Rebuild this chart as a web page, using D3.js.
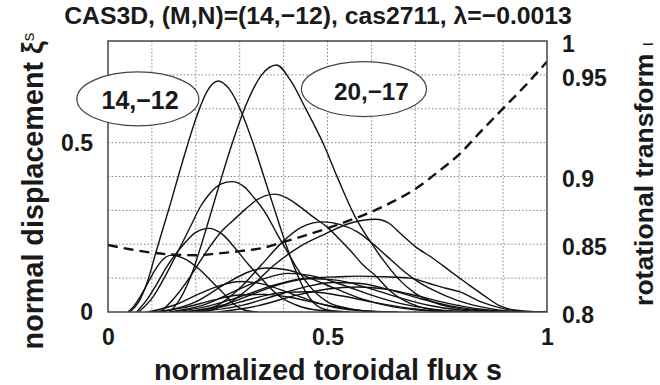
<!DOCTYPE html>
<html>
<head>
<meta charset="utf-8">
<script src="https://cdn.jsdelivr.net/npm/d3@7"></script>
<style>
  body { margin: 0; background: #fff; }
  svg text { font-family: "Liberation Sans", Arial, sans-serif; font-weight: bold; fill: #1a1a1a; }
</style>
</head>
<body>
<svg id="chart" width="660" height="385"></svg>
<script>
// tick labels
const sTicks = [0, 0.5, 1];
const xiTicks = [0, 0.5];
const iotaTicks = [0.8, 0.85, 0.9, 0.95, 1];
const modeLabels = ["14,\u221212", "20,\u221217"];

// rotational transform profile (dashed)
const iotaS = [0, 0.05, 0.1, 0.15, 0.2, 0.25, 0.3, 0.35, 0.4, 0.45, 0.5, 0.55, 0.6, 0.65, 0.7, 0.75, 0.8, 0.85, 0.9, 0.95, 1];
const iotaV = [0.8495, 0.8463, 0.8438, 0.8423, 0.8419, 0.8432, 0.8449, 0.8471, 0.8517, 0.8566, 0.8618,
               0.8676, 0.8739, 0.8816, 0.8908, 0.902, 0.9109, 0.9223, 0.9335, 0.9446, 0.9696];

// normal displacement of the Fourier components, [s, xi]
const mode14_12 = [[0.05,0],[0.07,0.03],[0.09,0.09],[0.11,0.18],[0.14,0.31],[0.17,0.445],[0.2,0.57],[0.225,0.65],[0.251,0.682],[0.275,0.66],[0.305,0.587],[0.33,0.5],[0.355,0.4],[0.38,0.3],[0.4,0.22],[0.425,0.13],[0.45,0.06],[0.47,0.025],[0.5,0.006],[0.55,0]];
const mode20_17 = [[0.14,0],[0.16,0.03],[0.19,0.11],[0.22,0.23],[0.25,0.36],[0.278,0.478],[0.316,0.616],[0.35,0.7],[0.384,0.729],[0.415,0.685],[0.452,0.596],[0.49,0.498],[0.525,0.39],[0.563,0.281],[0.6,0.203],[0.627,0.153],[0.66,0.1],[0.7,0.055],[0.75,0.025],[0.8,0.01],[0.88,0.002],[0.95,0]];
const modeC = [[0.07,0],[0.1,0.04],[0.134,0.115],[0.16,0.18],[0.187,0.25],[0.21,0.31],[0.232,0.35],[0.258,0.378],[0.282,0.385],[0.31,0.37],[0.331,0.34],[0.36,0.29],[0.384,0.233],[0.41,0.175],[0.43,0.13],[0.46,0.075],[0.5,0.03],[0.55,0.01],[0.62,0]];
const modeD = [[0.12,0],[0.15,0.04],[0.187,0.104],[0.21,0.15],[0.232,0.193],[0.26,0.24],[0.285,0.27],[0.31,0.3],[0.338,0.33],[0.378,0.348],[0.41,0.335],[0.437,0.311],[0.468,0.28],[0.498,0.252],[0.525,0.218],[0.551,0.183],[0.58,0.14],[0.612,0.104],[0.64,0.065],[0.673,0.035],[0.71,0.015],[0.76,0.004],[0.82,0]];
const modeE = [[0.065,0],[0.088,0.035],[0.11,0.08],[0.134,0.134],[0.171,0.198],[0.2,0.235],[0.23,0.247],[0.26,0.23],[0.293,0.183],[0.32,0.14],[0.346,0.104],[0.37,0.07],[0.392,0.045],[0.43,0.02],[0.48,0.005],[0.55,0]];
const modeF = [[0.045,0],[0.058,0.016],[0.08,0.06],[0.103,0.115],[0.125,0.155],[0.145,0.168],[0.17,0.16],[0.21,0.124],[0.24,0.085],[0.263,0.055],[0.285,0.025],[0.31,0.006],[0.34,0]];
const modeG = [[0.22,0],[0.28,0.03],[0.33,0.08],[0.38,0.14],[0.437,0.193],[0.494,0.23],[0.551,0.262],[0.61,0.274],[0.64,0.262],[0.665,0.233],[0.7,0.193],[0.741,0.158],[0.78,0.12],[0.817,0.085],[0.855,0.05],[0.893,0.018],[0.93,0.005],[0.97,0.001],[1,0]];
const modeH = [[0.2,0],[0.25,0.02],[0.3,0.07],[0.35,0.14],[0.4,0.21],[0.44,0.25],[0.49,0.266],[0.53,0.258],[0.57,0.235],[0.6,0.205],[0.635,0.165],[0.665,0.13],[0.7,0.095],[0.74,0.065],[0.794,0.035],[0.85,0.015],[0.9,0.004],[0.95,0]];
const modeI = [[0.15,0],[0.22,0.015],[0.3,0.045],[0.38,0.08],[0.45,0.1],[0.528,0.104],[0.57,0.106],[0.63,0.104],[0.688,0.1],[0.73,0.085],[0.77,0.07],[0.8,0.06],[0.85,0.03],[0.9,0.01],[0.95,0.001],[1,0]];
const modeJ = [[0.12,0],[0.2,0.03],[0.27,0.085],[0.32,0.118],[0.36,0.13],[0.41,0.124],[0.46,0.1],[0.52,0.068],[0.58,0.038],[0.65,0.015],[0.72,0.004],[0.8,0]];
const modeK = [[0.14,0],[0.22,0.022],[0.3,0.068],[0.36,0.1],[0.41,0.114],[0.46,0.108],[0.53,0.082],[0.6,0.05],[0.67,0.024],[0.74,0.008],[0.82,0]];
const modeL = [[0.17,0],[0.26,0.02],[0.34,0.058],[0.4,0.085],[0.46,0.098],[0.52,0.094],[0.59,0.072],[0.66,0.044],[0.73,0.02],[0.8,0.006],[0.88,0]];
const modeM = [[0.2,0],[0.3,0.018],[0.38,0.048],[0.45,0.074],[0.51,0.087],[0.57,0.085],[0.64,0.066],[0.71,0.04],[0.78,0.018],[0.85,0.005],[0.92,0]];
const modeN = [[0.09,0],[0.15,0.02],[0.21,0.055],[0.26,0.08],[0.3,0.09],[0.35,0.083],[0.41,0.058],[0.47,0.03],[0.53,0.01],[0.6,0.002],[0.66,0]];
const modeO = [[0.25,0],[0.34,0.018],[0.43,0.05],[0.5,0.068],[0.57,0.074],[0.64,0.066],[0.71,0.046],[0.78,0.024],[0.85,0.008],[0.92,0.001],[0.97,0]];
const modeP = [[0.18,0],[0.26,0.015],[0.33,0.04],[0.4,0.058],[0.46,0.06],[0.53,0.048],[0.6,0.03],[0.68,0.012],[0.76,0.002],[0.82,0]];
const modeQ = [[0.1,0],[0.17,0.012],[0.24,0.035],[0.3,0.05],[0.36,0.052],[0.42,0.042],[0.49,0.022],[0.56,0.007],[0.62,0]];

const modes = [mode14_12, mode20_17, modeC, modeD, modeE, modeF, modeG, modeH, modeI,
               modeJ, modeK, modeL, modeM, modeN, modeO, modeP, modeQ];

const svg = d3.select("#chart"),
    margin = { top: 41, right: 113, bottom: 73, left: 108 },
    width = +svg.attr("width") - margin.left - margin.right,
    height = +svg.attr("height") - margin.top - margin.bottom,
    g = svg.append("g").attr("transform", `translate(${margin.left},${margin.top})`);

const x = d3.scaleLinear().domain([0, 1]).range([0, width]);
const y = d3.scaleLinear().domain([0, 0.8]).range([height, 0]);
// right axis labels sit on the grid rows of the original figure
const yIota = d3.scaleLinear().domain(iotaTicks).range([y(0), y(0.2), y(0.4), y(0.7), y(0.8)]);

// shrink / grow a text so it spans w pixels
function fit(sel, w) {
    const len = sel.node().getComputedTextLength();
    const fs = parseFloat(sel.style("font-size"));
    sel.style("font-size", (fs * w / len) + "px");
}

// dotted grid
const grid = g.append("g").attr("stroke", "#8a8a8a").attr("stroke-width", 1).attr("stroke-dasharray", "1.6,2");
grid.selectAll(".gx").data(x.ticks(10).slice(1, -1)).enter().append("line")
    .attr("x1", d => x(d)).attr("x2", d => x(d)).attr("y1", 0).attr("y2", height);
grid.selectAll(".gy").data(y.ticks(8).slice(1, -1)).enter().append("line")
    .attr("y1", d => y(d)).attr("y2", d => y(d)).attr("x1", 0).attr("x2", width);

g.append("clipPath").attr("id", "clip").append("rect").attr("width", width).attr("height", height);
const plot = g.append("g").attr("clip-path", "url(#clip)");

const line = d3.line().x(d => x(d[0])).y(d => y(d[1])).curve(d3.curveMonotoneX);
plot.selectAll(".mode").data(modes).enter().append("path")
    .attr("class", "mode")
    .attr("d", line)
    .attr("fill", "none")
    .attr("stroke", "#111")
    .attr("stroke-width", 1.4);

const iotaLine = d3.line().x(d => x(d)).y((d, i) => yIota(iotaV[i])).curve(d3.curveMonotoneX);
plot.append("path")
    .attr("d", iotaLine(iotaS))
    .attr("fill", "none")
    .attr("stroke", "#111")
    .attr("stroke-width", 2.4)
    .attr("stroke-dasharray", "10,6");

// frame
g.append("rect").attr("width", width).attr("height", height)
    .attr("fill", "none").attr("stroke", "#444").attr("stroke-width", 1.5);

// mode labels in ellipses
const tags = [
    { cx: x(0.068), cy: y(0.629), rx: 61, ry: 27, tx: x(0.073), ty: y(0.60), w: 77 },
    { cx: x(0.583), cy: y(0.658), rx: 62.5, ry: 27.5, tx: x(0.6), ty: y(0.626), w: 75 }
];
tags.forEach((t, i) => {
    g.append("ellipse").attr("cx", t.cx).attr("cy", t.cy).attr("rx", t.rx).attr("ry", t.ry)
        .attr("fill", "#fff").attr("stroke", "#444").attr("stroke-width", 1.2);
    const tx = g.append("text").attr("x", t.tx).attr("y", t.ty)
        .attr("text-anchor", "middle").style("font-size", "23px").text(modeLabels[i]);
    fit(tx, t.w);
});

// axes
function styleAxis(a) {
    a.select(".domain").remove();
    a.selectAll("text").style("font-size", "23px").style("font-family", null).attr("fill", "#1a1a1a");
}
g.append("g").call(d3.axisLeft(y).tickValues(xiTicks).tickFormat(d3.format("~g")).tickSize(0).tickPadding(15))
    .call(styleAxis);
g.append("g").attr("transform", `translate(0,${height})`)
    .call(d3.axisBottom(x).tickValues(sTicks).tickFormat(d3.format("~g")).tickSize(0).tickPadding(17))
    .call(styleAxis);
g.append("g").attr("transform", `translate(${width},0)`)
    .call(d3.axisRight(yIota).tickValues(iotaTicks).tickFormat(d3.format("~g")).tickSize(0).tickPadding(15))
    .call(styleAxis)
    .selectAll("text").attr("dy", "0.45em");

// titles
const title = svg.append("text").attr("x", 318).attr("y", 24).attr("text-anchor", "middle")
    .style("font-size", "25px").text("CAS3D, (M,N)=(14,\u221212), cas2711, \u03bb=\u22120.0013");
fit(title, 508);

const xTitle = svg.append("text").attr("x", 328).attr("y", 380).attr("text-anchor", "middle")
    .style("font-size", "28px").text("normalized toroidal flux s");
fit(xTitle, 348);

const yTitle = svg.append("text").attr("transform", "translate(43,191) rotate(-90)")
    .attr("text-anchor", "middle").style("font-size", "28px");
yTitle.append("tspan").text("normal displacement \u03be");
yTitle.append("tspan").attr("dy", "-0.55em").style("font-size", "60%").style("font-weight", "normal").text("s");
fit(yTitle, 317);

const rTitle = svg.append("text").attr("transform", "translate(653,174) rotate(-90)")
    .attr("text-anchor", "middle").style("font-size", "26px");
rTitle.append("tspan").text("rotational transform ");
rTitle.append("tspan").style("font-weight", "normal").style("font-size", "70%").text("\u03b9");
fit(rTitle, 264);
</script>
</body>
</html>
